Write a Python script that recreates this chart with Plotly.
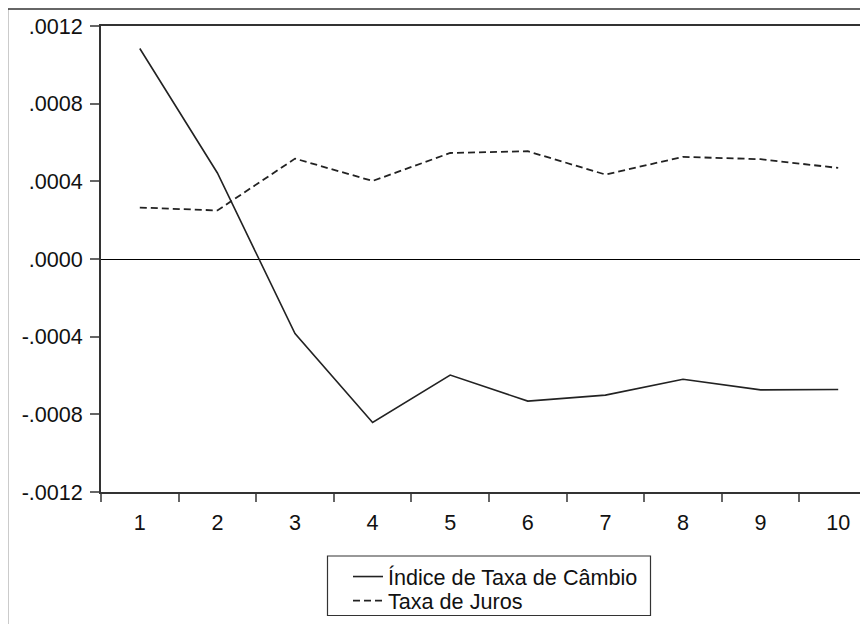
import plotly.graph_objects as go

periods = [1, 2, 3, 4, 5, 6, 7, 8, 9, 10]
cambio = [0.001084, 0.000443, -0.000384, -0.000842, -0.000598, -0.000732, -0.000701, -0.000619, -0.000674, -0.000672]
juros = [0.000265, 0.000250, 0.000517, 0.000402, 0.000546, 0.000555, 0.000435, 0.000526, 0.000514, 0.000469]
ytick_vals = [-0.0012, -0.0008, -0.0004, 0.0, 0.0004, 0.0008, 0.0012]
ytick_text = ["-.0012", "-.0008", "-.0004", ".0000", ".0004", ".0008", ".0012"]
xtick_text = [str(p) for p in periods]

# page has an 8px body margin; work in page pixels and convert
OFF = 8
W, H = 868 - OFF, 624 - OFF
L, T, B, R = 101 - OFF, 26 - OFF, 132, 0
plot_w = W - L - R
plot_h = H - T - B
step = 77.6
FONT = "Liberation Sans, Arial, sans-serif"
FS = 21.6

fig = go.Figure()
fig.add_trace(go.Scatter(x=periods, y=cambio, mode="lines", name="Índice de Taxa de Câmbio",
                         line=dict(color="#222222", width=1.6), legend="legend"))
fig.add_trace(go.Scatter(x=periods, y=juros, mode="lines", name="Taxa de Juros",
                         line=dict(color="#222222", width=1.8, dash="7px,4px"), legend="legend2"))

def px_x(px):
    return (px - OFF - L) / plot_w

def px_y(py):
    return (H - B - (py - OFF)) / plot_h

# outer frame (left and top edges visible in the crop)
fig.add_shape(type="line", xref="paper", yref="paper", x0=px_x(7.5), x1=px_x(7.5), y0=px_y(9), y1=px_y(640),
              line=dict(color="#333333", width=1.5))
fig.add_shape(type="line", xref="paper", yref="paper", x0=px_x(7.5), x1=px_x(880), y0=px_y(9), y1=px_y(9),
              line=dict(color="#333333", width=1.5))
# legend box
fig.add_shape(type="rect", xref="paper", yref="paper", x0=px_x(327.5), x1=px_x(650.5), y0=px_y(556), y1=px_y(615.5),
              line=dict(color="#333333", width=1.2), fillcolor="rgba(0,0,0,0)")

leg_common = dict(xanchor="left", yanchor="middle", borderwidth=0, bgcolor="rgba(0,0,0,0)",
                  font=dict(family=FONT, size=FS, color="#111111"), itemwidth=30)

fig.update_layout(
    width=W, height=H,
    margin=dict(l=L, r=R, t=T, b=B, pad=0),
    paper_bgcolor="white", plot_bgcolor="white",
    font=dict(family=FONT, size=FS, color="#111111"),
    showlegend=True,
    legend=dict(x=px_x(348), y=px_y(577), **leg_common),
    legend2=dict(x=px_x(348), y=px_y(601), **leg_common),
    xaxis=dict(range=[0.5, 0.5 + plot_w / step], tickmode="array", tickvals=periods, ticktext=xtick_text,
               ticks="outside", ticklen=8, tickcolor="rgba(0,0,0,0)", ticklabelstandoff=2,
               showgrid=False, zeroline=False, showline=True, linecolor="#333333", linewidth=1.6, mirror=True,
               minor=dict(tickmode="array", tickvals=[p - 0.5 for p in periods] + [10.5],
                          ticks="outside", ticklen=8, tickcolor="#666666", tickwidth=1.5, showgrid=False),
               tickfont=dict(family=FONT, size=FS, color="#111111"), fixedrange=True),
    yaxis=dict(range=[-0.0012, 0.0012], tickmode="array", tickvals=ytick_vals, ticktext=ytick_text,
               ticks="outside", ticklen=9, tickcolor="#666666", tickwidth=1.5, ticklabelstandoff=3,
               showgrid=False, zeroline=True, zerolinecolor="#000000", zerolinewidth=1,
               showline=True, linecolor="#333333", linewidth=1.6,
               tickfont=dict(family=FONT, size=FS, color="#111111"), fixedrange=True),
)

fig.write_html("out.html")
